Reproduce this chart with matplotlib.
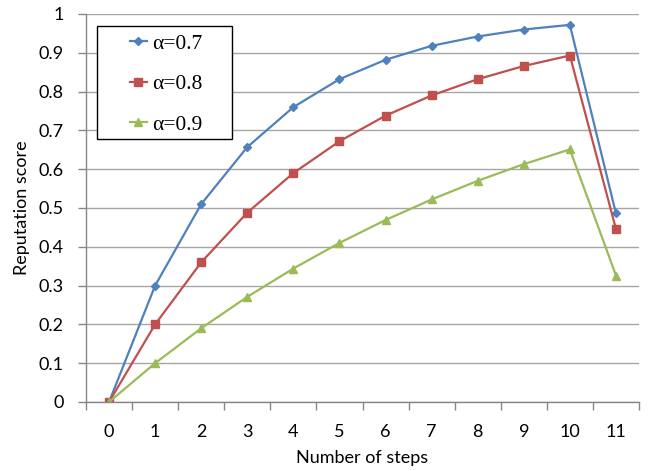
import matplotlib
matplotlib.use("Agg")
import matplotlib.pyplot as plt
from matplotlib.patches import Rectangle
from matplotlib.ticker import FixedLocator

steps = [0, 1, 2, 3, 4, 5, 6, 7, 8, 9, 10, 11]
alpha07 = [0, 0.30, 0.51, 0.657, 0.76, 0.832, 0.882, 0.918, 0.942, 0.960, 0.972, 0.486]
alpha08 = [0, 0.20, 0.36, 0.488, 0.59, 0.672, 0.738, 0.790, 0.832, 0.866, 0.893, 0.446]
alpha09 = [0, 0.10, 0.19, 0.271, 0.344, 0.410, 0.469, 0.522, 0.570, 0.613, 0.651, 0.326]
labels = ["\u03b1=0.7", "\u03b1=0.8", "\u03b1=0.9"]
yticks = [0, 0.1, 0.2, 0.3, 0.4, 0.5, 0.6, 0.7, 0.8, 0.9, 1]
ytick_labels = ["0", "0.1", "0.2", "0.3", "0.4", "0.5", "0.6", "0.7", "0.8", "0.9", "1"]

W, H = 655, 471
fig = plt.figure(figsize=(6.55, 4.71), dpi=100)
ax = fig.add_axes([86 / W, 1 - 402 / H, (639 - 86) / W, (402 - 14) / H])

gray = "#868686"
grid = "#a6a6a6"
ax.plot(steps, alpha07, color="#4F81BD", marker="D", markersize=4.5, lw=1.6, label=labels[0])
ax.plot(steps, alpha08, color="#C0504D", marker="s", markersize=6, lw=1.6, label=labels[1])
ax.plot(steps, alpha09, color="#9BBB59", marker="^", markersize=6, lw=1.6, label=labels[2])

ax.set_xlim(-0.5, 11.5)
ax.set_ylim(0, 1)
ax.set_yticks(yticks)
ax.set_yticklabels(ytick_labels)
ax.set_xticks(steps)
ax.set_xticklabels([str(s) for s in steps])
ax.xaxis.set_minor_locator(FixedLocator([s - 0.5 for s in steps] + [11.5]))
ax.tick_params(axis="x", which="major", length=0, pad=16)
ax.tick_params(axis="x", which="minor", length=6, color=gray, width=1)
ax.tick_params(axis="y", which="major", length=6, color=gray, width=1, pad=10)
ax.tick_params(labelsize=13)
for lab in ax.get_xticklabels() + ax.get_yticklabels():
    lab.set_fontfamily("Lato")

ax.grid(axis="y", color=grid, lw=1)
ax.set_axisbelow(True)
for side in ["top", "right"]:
    ax.spines[side].set_visible(False)
for side in ["left", "bottom"]:
    ax.spines[side].set_color(gray)
    ax.spines[side].set_linewidth(1)

ax.set_xlabel("Number of steps", fontsize=13, family="Lato", labelpad=7)
ax.set_ylabel("Reputation score", fontsize=13, family="Lato", labelpad=6)

leg = fig.legend(loc="center", bbox_to_anchor=(166 / W, 1 - 84 / H), frameon=False,
                 prop={"family": "Liberation Serif", "size": 15.5},
                 handlelength=0.8, handletextpad=0.25, labelspacing=0.95, borderpad=0,
                 handles=ax.get_lines())
fig.add_artist(Rectangle((97 / W, 1 - 139 / H), 135 / W, 113 / H, transform=fig.transFigure,
                         fill=True, facecolor="white", edgecolor="black", lw=1, zorder=2))
leg.set_zorder(3)

fig.savefig("out.png", dpi=100)
